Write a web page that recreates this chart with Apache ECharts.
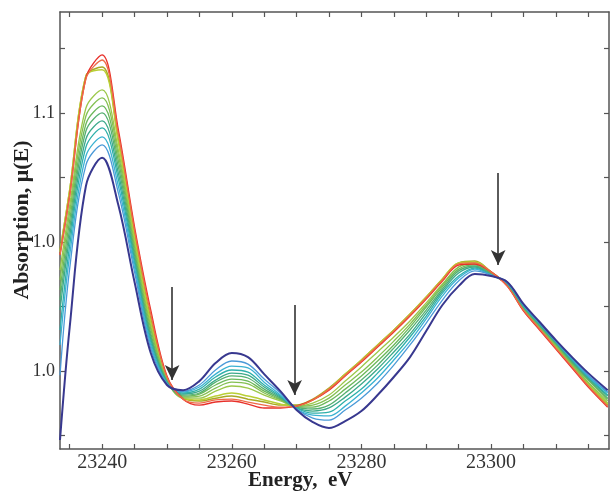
<!DOCTYPE html>
<html>
<head>
<meta charset="utf-8">
<script src="https://cdn.jsdelivr.net/npm/echarts@6/dist/echarts.min.js"></script>
<style>
html,body{margin:0;padding:0;background:#fff;}
#chart{width:611px;height:491px;}
</style>
</head>
<body>
<div id="chart"></div>
<script>
// Energy grid (eV)
var energy = [23233.5,23235,23237.5,23240,23242.5,23245,23247.5,23250,23252.5,23255,23257.5,23260,23262.5,23265,23267.5,23270,23272.5,23275,23277.5,23280,23282.5,23285,23287.5,23290,23292.5,23295,23297.5,23300,23302.5,23305,23307.5,23310,23312.5,23315,23318];

var s1  = [1.0450,1.0682,1.1136,1.1225,1.0934,1.0558,1.0236,0.9981,0.9891,0.9868,0.9880,0.9884,0.9872,0.9857,0.9857,0.9864,0.9888,0.9926,0.9981,1.0035,1.0093,1.0151,1.0213,1.0279,1.0349,1.0411,1.0415,1.0384,1.0329,1.0233,1.0159,1.0085,1.0012,0.9938,0.9860];
var s2  = [1.0450,1.0682,1.1132,1.1205,1.0919,1.0547,1.0221,0.9977,0.9891,0.9876,0.9888,0.9891,0.9880,0.9868,0.9860,0.9864,0.9888,0.9930,0.9984,1.0039,1.0097,1.0155,1.0217,1.0283,1.0353,1.0415,1.0419,1.0384,1.0329,1.0236,1.0163,1.0089,1.0016,0.9942,0.9864];
var s3  = [1.0469,1.0702,1.1143,1.1178,1.0895,1.0527,1.0202,0.9973,0.9895,0.9884,0.9895,0.9903,0.9891,0.9880,0.9868,0.9868,0.9891,0.9934,0.9988,1.0043,1.0101,1.0159,1.0221,1.0287,1.0357,1.0419,1.0426,1.0384,1.0333,1.0236,1.0163,1.0093,1.0019,0.9946,0.9868];
var s4  = [1.0461,1.0702,1.1143,1.1167,1.0888,1.0516,1.0190,0.9969,0.9895,0.9888,0.9903,0.9915,0.9903,0.9888,0.9872,0.9864,0.9888,0.9930,0.9988,1.0043,1.0101,1.0159,1.0221,1.0287,1.0357,1.0419,1.0422,1.0384,1.0333,1.0240,1.0167,1.0093,1.0023,0.9950,0.9872];
var s5  = [1.0391,1.0643,1.1019,1.1089,1.0857,1.0496,1.0174,0.9965,0.9895,0.9895,0.9922,0.9942,0.9934,0.9907,0.9884,0.9864,0.9876,0.9907,0.9961,1.0016,1.0074,1.0132,1.0194,1.0264,1.0337,1.0403,1.0419,1.0380,1.0333,1.0240,1.0167,1.0097,1.0023,0.9953,0.9876];
var s6  = [1.0353,1.0616,1.0988,1.1058,1.0837,1.0481,1.0163,0.9965,0.9899,0.9903,0.9934,0.9957,0.9950,0.9915,0.9888,0.9864,0.9868,0.9895,0.9946,0.9996,1.0054,1.0116,1.0182,1.0256,1.0333,1.0403,1.0415,1.0380,1.0333,1.0244,1.0171,1.0101,1.0027,0.9957,0.9884];
var s7  = [1.0314,1.0585,1.0957,1.1027,1.0814,1.0465,1.0147,0.9961,0.9903,0.9911,0.9946,0.9969,0.9961,0.9922,0.9891,0.9860,0.9860,0.9884,0.9930,0.9981,1.0039,1.0101,1.0171,1.0248,1.0326,1.0395,1.0411,1.0376,1.0337,1.0248,1.0174,1.0105,1.0031,0.9965,0.9891];
var s8  = [1.0275,1.0554,1.0930,1.1000,1.0791,1.0450,1.0136,0.9957,0.9907,0.9915,0.9957,0.9981,0.9973,0.9930,0.9895,0.9860,0.9853,0.9868,0.9915,0.9965,1.0023,1.0089,1.0159,1.0236,1.0318,1.0388,1.0407,1.0376,1.0337,1.0248,1.0178,1.0109,1.0035,0.9969,0.9895];
var s9  = [1.0236,1.0523,1.0899,1.0969,1.0767,1.0434,1.0124,0.9957,0.9911,0.9922,0.9965,0.9992,0.9984,0.9938,0.9899,0.9857,0.9845,0.9857,0.9899,0.9950,1.0008,1.0074,1.0143,1.0225,1.0310,1.0380,1.0403,1.0372,1.0337,1.0252,1.0178,1.0109,1.0039,0.9973,0.9903];
var s10 = [1.0159,1.0488,1.0868,1.0942,1.0744,1.0419,1.0112,0.9953,0.9915,0.9930,0.9977,1.0004,0.9996,0.9946,0.9903,0.9857,0.9837,0.9841,0.9884,0.9930,0.9992,1.0058,1.0132,1.0213,1.0302,1.0368,1.0399,1.0372,1.0341,1.0252,1.0182,1.0112,1.0043,0.9977,0.9907];
var s11 = [1.0101,1.0450,1.0833,1.0907,1.0717,1.0403,1.0101,0.9950,0.9919,0.9938,0.9988,1.0019,1.0012,0.9957,0.9907,0.9853,0.9829,0.9826,0.9864,0.9915,0.9973,1.0043,1.0116,1.0202,1.0291,1.0360,1.0395,1.0372,1.0341,1.0256,1.0186,1.0116,1.0047,0.9981,0.9915];
var s12 = [0.9984,1.0399,1.0798,1.0876,1.0690,1.0384,1.0089,0.9950,0.9922,0.9946,1.0004,1.0039,1.0027,0.9969,0.9915,0.9853,0.9818,0.9810,0.9849,0.9895,0.9953,1.0023,1.0101,1.0186,1.0275,1.0349,1.0388,1.0372,1.0345,1.0256,1.0186,1.0116,1.0050,0.9984,0.9919];
var s13 = [0.9733,1.0171,1.0717,1.0826,1.0643,1.0345,1.0070,0.9946,0.9926,0.9961,1.0031,1.0070,1.0054,0.9988,0.9922,0.9849,0.9802,0.9779,0.9806,0.9845,0.9907,0.9977,1.0054,1.0155,1.0256,1.0329,1.0376,1.0368,1.0345,1.0260,1.0190,1.0120,1.0054,0.9992,0.9926];

var seriesList = [s1,s2,s3,s4,s5,s6,s7,s8,s9,s10,s11,s12,s13];
var colors = ['#e8302a','#ee6a48','#a9a824','#b9cf34','#9cc84a','#84c052','#6cb85a','#55b070','#3ca98a','#2fb0aa','#3ab2d2','#4a9ad8','#38388f'];
var widths = [1.4,1.3,1.5,1.5,1.3,1.3,1.3,1.3,1.3,1.3,1.3,1.3,2.0];

// tick positions and labels
var xMinorTicks = [23235,23240,23245,23250,23255,23260,23265,23270,23275,23280,23285,23290,23295,23300,23305,23310,23315];
var xLabelTicks = [23240,23260,23280,23300];
var yTicks = [0.975,1.0,1.025,1.05,1.075,1.1,1.125];
var yLabelTicks = [1.0,1.05,1.1];
var yTickLabels = ['1.0','1.0','1.1'];

// arrows: [energy, top value, tip value]
var arrows = [[23250.8,1.0326,0.9965],[23269.7,1.0256,0.9907],[23301.1,1.0767,1.0411]];

var xMin = 23233.5, xMax = 23318.2, yMin = 0.9698, yMax = 1.1391;
var font = 'Liberation Serif';
var axisColor = '#555';

function mkX(pos, labels){
  return {
    type:'value', position:pos, min:xMin, max:xMax,
    axisLine:{show:true, onZero:false, lineStyle:{color:axisColor, width:1.5}},
    axisTick:{show:true, inside:true, length:5, customValues:xMinorTicks, lineStyle:{color:axisColor, width:1.2}},
    axisLabel:{show:labels, customValues:xLabelTicks, color:'#333', fontFamily:font, fontSize:20, margin:4,
      formatter:function(v){return String(v);}},
    splitLine:{show:false}
  };
}
function mkY(pos, labels){
  return {
    type:'value', position:pos, min:yMin, max:yMax,
    axisLine:{show:true, onZero:false, lineStyle:{color:axisColor, width:1.5}},
    axisTick:{show:true, inside:true, length:5, customValues:yTicks, lineStyle:{color:axisColor, width:1.2}},
    axisLabel:{show:labels, customValues:yLabelTicks, color:'#333', fontFamily:font, fontSize:18, margin:5,
      formatter:function(v){
        for (var i=0;i<yLabelTicks.length;i++){ if (Math.abs(yLabelTicks[i]-v)<1e-6) return yTickLabels[i]; }
        return '';
      }},
    splitLine:{show:false}
  };
}

var series = seriesList.map(function(s, i){
  return {
    type:'line', xAxisIndex:0, yAxisIndex:0, showSymbol:false, smooth:0.35,
    data: energy.map(function(e, j){ return [e, s[j]]; }),
    lineStyle:{color:colors[i], width:widths[i]}, itemStyle:{color:colors[i]},
    z: 2 + (i===12 ? 20 : (i<2 ? 15 : 0)), silent:true
  };
});
series.push({
  type:'line', xAxisIndex:0, yAxisIndex:0, data:[], silent:true,
  markLine:{
    silent:true, animation:false,
    symbol:['none','arrow'], symbolSize:[11,15],
    label:{show:false},
    lineStyle:{color:'#333', width:1.6, type:'solid'},
    data: arrows.map(function(a){ return [{coord:[a[0],a[1]]},{coord:[a[0],a[2]]}]; })
  }
});

var chart = echarts.init(document.getElementById('chart'), null, {renderer:'canvas'});
chart.setOption({
  backgroundColor:'#fff',
  animation:false,
  grid:{left:60, right:2, top:12, bottom:42, containLabel:false},
  xAxis:[mkX('bottom', true), mkX('top', false)],
  yAxis:[mkY('left', true), mkY('right', false)],
  series: series,
  graphic:[
    {type:'text', left:248, top:470, z:100,
      style:{text:'Energy,  eV', font:'bold 21px "Liberation Serif"', fill:'#222'}},
    {type:'text', rotation:Math.PI/2, x:22, y:220, z:100,
      style:{text:'Absorption, μ(E)', font:'bold 22px "Liberation Serif"', fill:'#222', align:'center', verticalAlign:'middle'}}
  ]
});
</script>
</body>
</html>
